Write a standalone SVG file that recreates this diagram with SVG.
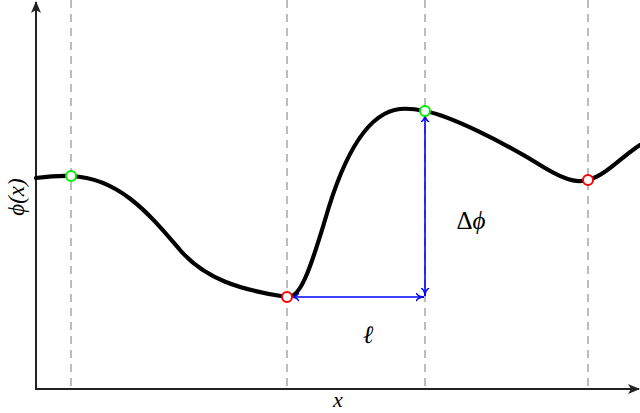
<svg xmlns="http://www.w3.org/2000/svg" width="640" height="413" viewBox="0 0 640 413">
<style>
.axis{stroke:#222;stroke-width:2;fill:none}
.dash{stroke:#999;stroke-width:1.3;stroke-dasharray:8,6;fill:none}
.curve{stroke:#000;stroke-width:4.2;fill:none;stroke-linecap:round}
.meas{stroke:#0000ff;stroke-width:1.6;fill:none}
.lbl{font-family:"Liberation Serif","DejaVu Serif",serif;font-style:italic;fill:#000}
.gp{fill:#fff;stroke:#00ee00;stroke-width:2}
.rp{fill:#fff;stroke:#ff0000;stroke-width:2}
</style>
<defs>
<marker id="ah" viewBox="0 0 12 10" refX="11" refY="5" markerWidth="12" markerHeight="10" markerUnits="userSpaceOnUse" orient="auto">
<path d="M0,0 L12,5 L0,10 L3,5 Z" fill="#222"/>
</marker>
<marker id="bh" viewBox="0 0 10 10" refX="9" refY="5" markerWidth="9" markerHeight="9" markerUnits="userSpaceOnUse" orient="auto-start-reverse">
<path d="M0,0.5 Q3,5 9,5 Q3,5 0,9.5" fill="none" stroke="#0000ff" stroke-width="1.6"/>
</marker>
</defs>
<g id="grid">
<line class="dash" x1="71" y1="0" x2="71" y2="389"/>
<line class="dash" x1="287" y1="0" x2="287" y2="389"/>
<line class="dash" x1="425" y1="0" x2="425" y2="389"/>
<line class="dash" x1="588" y1="0" x2="588" y2="389"/>
</g>
<g id="axes">
<line class="axis" x1="36" y1="389" x2="36" y2="2" marker-end="url(#ah)"/>
<line class="axis" x1="35" y1="389" x2="639" y2="389" marker-end="url(#ah)"/>
<text class="lbl" x="338" y="407" font-size="22" text-anchor="middle">x</text>
<text class="lbl" font-size="23" text-anchor="middle" transform="translate(24,197) rotate(-90)">ϕ(x)</text>
</g>
<g id="curve">
<path class="curve" d="M36,178 C48,176.5 60,175.5 71,176 C120,178 150,215 180,250 C205,279 240,290 287,297 C300,299 310,270 325,220 C345,150 370,112 400,109 C412,108 420,110 425,111 C450,116 500,140 545,168 C570,183 580,182 588,180 C605,176 620,158 640,145"/>
</g>
<g id="connectors">
<line class="meas" x1="291" y1="297" x2="424" y2="297" marker-start="url(#bh)" marker-end="url(#bh)"/>
<line class="meas" x1="425" y1="296" x2="425" y2="114" marker-start="url(#bh)" marker-end="url(#bh)"/>
</g>
<g id="labels">
<text class="lbl" x="368" y="343" font-size="25" text-anchor="middle">ℓ</text>
<text x="471" y="229" font-size="25" text-anchor="middle" font-family="Liberation Serif, DejaVu Serif, serif"><tspan font-style="normal">Δ</tspan><tspan font-style="italic">ϕ</tspan></text>
</g>
<g id="points">
<circle id="p1" class="gp" cx="71" cy="176" r="5"/>
<circle id="p2" class="rp" cx="287" cy="297" r="5"/>
<circle id="p3" class="gp" cx="425" cy="111" r="5"/>
<circle id="p4" class="rp" cx="588" cy="180" r="5"/>
</g>
</svg>
